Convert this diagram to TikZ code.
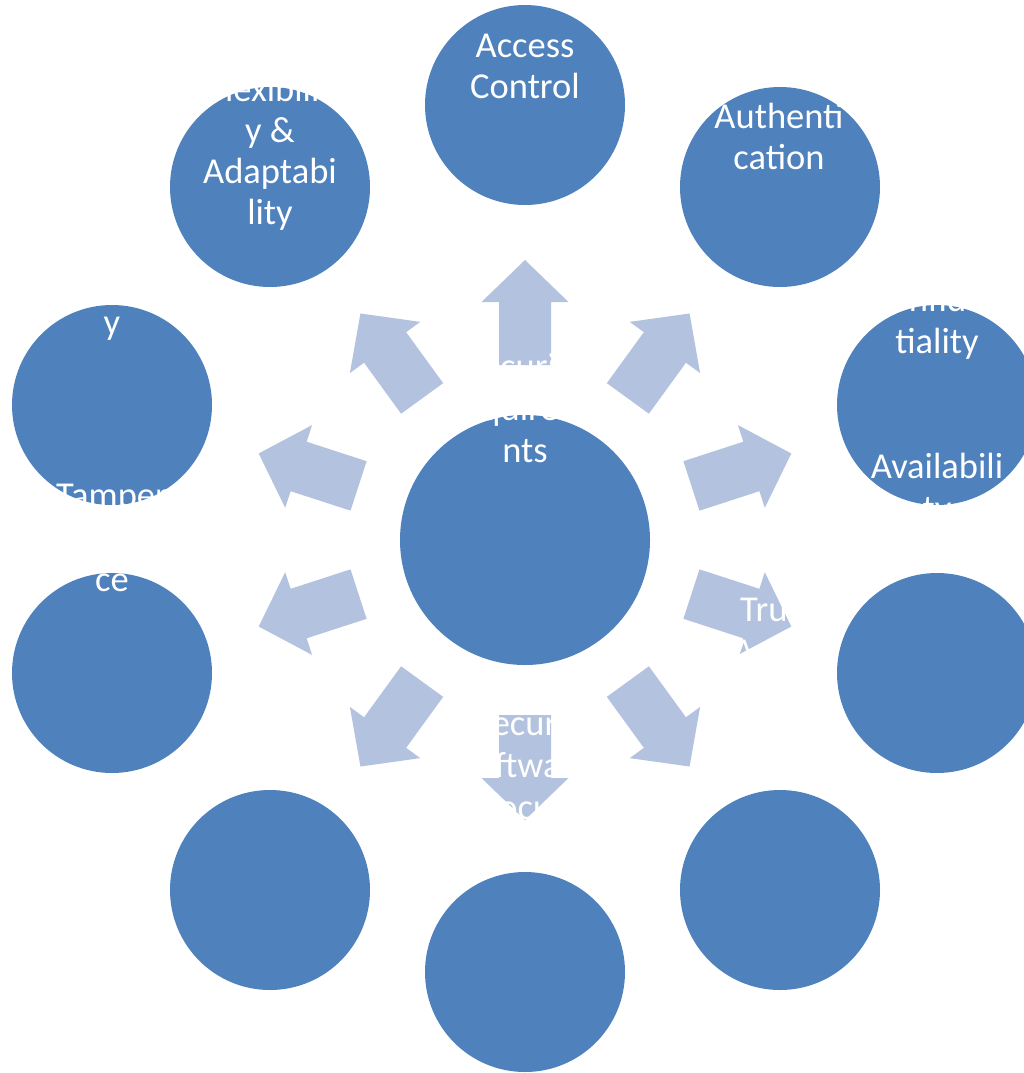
\documentclass[tikz,border=0pt]{standalone}
\usepackage{fontspec}
\setmainfont{Carlito}
\definecolor{circblue}{HTML}{4F81BD}
\definecolor{arrowblue}{HTML}{B3C2DE}
\begin{document}
\begin{tikzpicture}[x=1pt,y=-1pt,
  circ/.style={circle,fill=circblue,draw=none,minimum size=200pt,inner sep=0pt},
  bigcirc/.style={circle,fill=circblue,draw=none,minimum size=250pt,inner sep=0pt},
  arr/.style={fill=arrowblue,draw=none},
  lbl/.style={text=white,font=\fontsize{36.5}{42}\selectfont,inner sep=0pt,anchor=base},
  lblw/.style={lbl,anchor=base west}]
\useasboundingbox (0,0) rectangle (1024,1073);
\clip (0,0) rectangle (1024,1073);
% arrows
\foreach \a in {90,54,18,-18,-54,-90,-126,-162,162,126}{
  \fill[arr,shift={(525,540)},rotate=\a]
    (175,-26) -- (238,-26) -- (238,-43.5) -- (280,0) -- (238,43.5) -- (238,26) -- (175,26) -- cycle;
}
% circles
\node[bigcirc] (ctr) at (525,540) {};
\node[circ] (c1) at (525,105) {};
\node[circ] (c2) at (780,187) {};
\node[circ] (c3) at (937,405) {};
\node[circ] (c4) at (937,673) {};
\node[circ] (c5) at (780,890) {};
\node[circ] (c6) at (525,972) {};
\node[circ] (c7) at (270,890) {};
\node[circ] (c8) at (112,673) {};
\node[circ] (c9) at (112,405) {};
\node[circ] (c10) at (270,187) {};
% texts
\node[lbl] (t1a) at (525,57) {Access};
\node[lbl] (t1b) at (525,98) {Control};
\node[lbl] (t2a) at (779,128) {Authenti};
\node[lbl] (t2b) at (779,169) {cation};
\node[lbl] (t3a) at (937,311) {Confiden};
\node[lbl] (t3b) at (937,353) {tiality};
\node[lbl] (t4a) at (937,478) {Availabili};
\node[lbl] (t4b) at (937,520) {ty};
\node[lblw] (t5a) at (740,621) {Trust};
\node[lblw] (t5b) at (733,663) {Anchor};
\node[lbl] (t6a) at (525,735) {Secure};
\node[lbl] (t6b) at (525,777) {Software};
\node[lbl] (t6c) at (525,819) {Procure};
\node[lbl] (t8a) at (112,507) {Tamper};
\node[lbl] (t8b) at (112,549) {Resistan};
\node[lbl] (t8c) at (112,591) {ce};
\node[lbl] (t9) at (112,334) {y};
\node[lbl] (t10a) at (270,101) {Flexibilit};
\node[lbl] (t10b) at (270,142) {y \&};
\node[lbl] (t10c) at (270,183) {Adaptabi};
\node[lbl] (t10d) at (270,224) {lity};
\node[lbl] (tca) at (525,378) {Security};
\node[lbl] (tcb) at (525,420) {Requireme};
\node[lbl] (tcc) at (525,462) {nts};
\end{tikzpicture}
\end{document}
